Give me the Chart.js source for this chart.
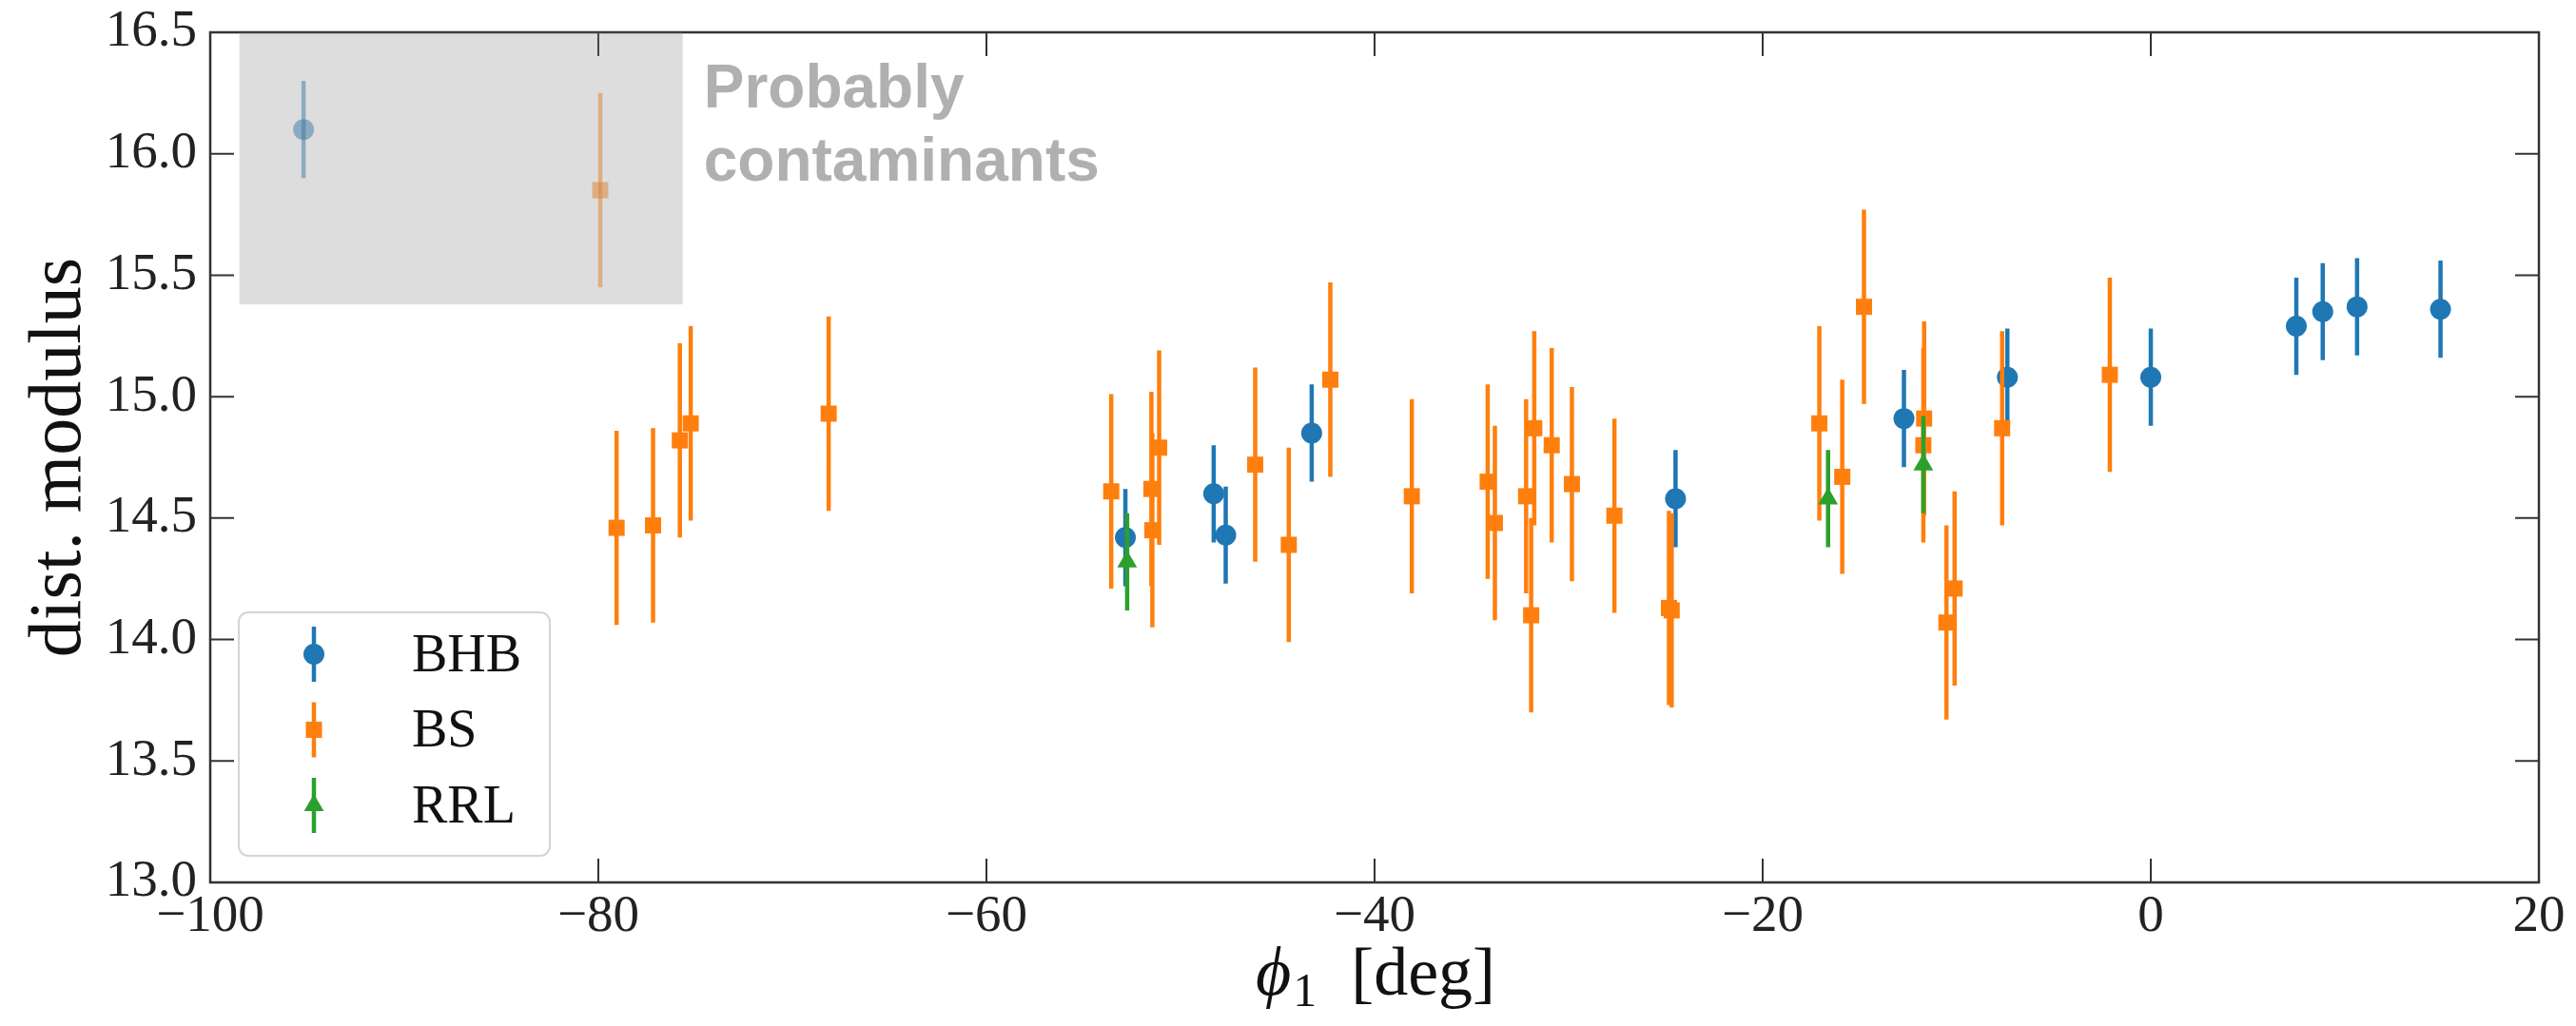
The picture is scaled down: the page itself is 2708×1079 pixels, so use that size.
<!DOCTYPE html>
<html>
<head>
<meta charset="utf-8">
<script src="https://cdn.jsdelivr.net/npm/chart.js@4.4.1/dist/chart.umd.min.js"></script>
<style>
  html, body { margin: 0; padding: 0; background: #fff; }
  #wrap { width: 2708px; height: 1079px; }
</style>
</head>
<body>
<div id="wrap"><canvas id="distChart" width="2708" height="1079"></canvas></div>
<script>
// phi_1 [deg], distance modulus and 1-sigma error for each tracer
const bhbPhi = [-52.84, -48.29, -47.67, -43.24, -24.49, -12.72, -7.39, 0.0, 7.50, 8.86, 10.63, 14.93];
const bhbDm  = [14.42, 14.60, 14.43, 14.85, 14.58, 14.91, 15.08, 15.08, 15.29, 15.35, 15.37, 15.36];
const bhbErr = [0.20, 0.20, 0.20, 0.20, 0.20, 0.20, 0.20, 0.20, 0.20, 0.20, 0.20, 0.20];

const bsPhi = [-79.06, -77.18, -75.80, -75.24, -68.13, -53.57, -51.50, -51.45, -51.10, -46.15, -44.42,
               -42.28, -38.08, -34.17, -33.80, -32.19, -31.93, -31.77, -30.87, -29.83, -27.64, -24.83,
               -24.69, -17.08, -15.90, -14.78, -11.68, -11.72, -10.53, -10.11, -7.66, -2.11];
const bsDm  = [14.46, 14.47, 14.82, 14.89, 14.93, 14.61, 14.62, 14.45, 14.79, 14.72, 14.39,
               15.07, 14.59, 14.65, 14.48, 14.59, 14.10, 14.87, 14.80, 14.64, 14.51, 14.13,
               14.12, 14.89, 14.67, 15.37, 14.91, 14.80, 14.07, 14.21, 14.87, 15.09];
const bsErr = [0.40, 0.40, 0.40, 0.40, 0.40, 0.40, 0.40, 0.40, 0.40, 0.40, 0.40,
               0.40, 0.40, 0.40, 0.40, 0.40, 0.40, 0.40, 0.40, 0.40, 0.40, 0.40,
               0.40, 0.40, 0.40, 0.40, 0.40, 0.40, 0.40, 0.40, 0.40, 0.40];

const rrlPhi = [-52.75, -16.63, -11.72];
const rrlDm  = [14.32, 14.58, 14.72];
const rrlErr = [0.20, 0.20, 0.20];

// outliers inside the shaded region
const contamBhbPhi = [-95.19];
const contamBhbDm  = [16.10];
const contamBhbErr = [0.20];
const contamBsPhi  = [-79.90];
const contamBsDm   = [15.85];
const contamBsErr  = [0.40];

// shaded region [phi min, phi max] x [dm min, dm max]
const contamPhiRange = [-98.5, -75.65];
const contamDmRange  = [15.38, 16.5];
const contamText = ['Probably', 'contaminants'];

const legendOrder = ['BHB', 'BS', 'RRL'];
const xTicks = [-100, -80, -60, -40, -20, 0, 20];
const yTicks = [13.0, 13.5, 14.0, 14.5, 15.0, 15.5, 16.0, 16.5];

const BLUE = '#1f77b4', ORANGE = '#ff7f0e', GREEN = '#2ca02c';
const SERIF = '"Liberation Serif", "DejaVu Serif", serif';
const TICK_LEN = 25;

const toPoints = (xs, ys) => xs.map((v, i) => ({ x: v, y: ys[i] }));

// vertical error bars, drawn just under each dataset's own markers
const errorBars = {
    id: 'errorBars',
    beforeDatasetDraw(chart, args) {
        const ds = chart.data.datasets[args.index];
        if (!ds.errors) return;
        const yScale = chart.scales.y;
        const ctx = chart.ctx;
        ctx.save();
        ctx.strokeStyle = ds.backgroundColor;
        ctx.lineWidth = 4.5;
        ctx.beginPath();
        args.meta.data.forEach((pt, i) => {
            const v = ds.data[i].y, e = ds.errors[i];
            ctx.moveTo(pt.x, yScale.getPixelForValue(v - e));
            ctx.lineTo(pt.x, yScale.getPixelForValue(v + e));
        });
        ctx.stroke();
        ctx.restore();
    }
};

// box frame with inward ticks on all four sides
const frame = {
    id: 'frame',
    beforeDatasetsDraw(chart) {
        const { ctx, chartArea: a, scales: { x, y } } = chart;
        ctx.save();
        ctx.strokeStyle = '#333';
        ctx.lineWidth = 2;
        ctx.beginPath();
        xTicks.forEach((v) => {
            const px = x.getPixelForValue(v);
            ctx.moveTo(px, a.bottom); ctx.lineTo(px, a.bottom - TICK_LEN);
            ctx.moveTo(px, a.top); ctx.lineTo(px, a.top + TICK_LEN);
        });
        yTicks.forEach((v) => {
            const py = y.getPixelForValue(v);
            ctx.moveTo(a.left, py); ctx.lineTo(a.left + TICK_LEN, py);
            ctx.moveTo(a.right, py); ctx.lineTo(a.right - TICK_LEN, py);
        });
        ctx.stroke();
        ctx.lineWidth = 2.5;
        ctx.strokeRect(a.left, a.top, a.right - a.left, a.bottom - a.top);
        ctx.restore();
    }
};

// grey band over the likely contaminants, plus its note
const contamBand = {
    id: 'contamBand',
    afterDatasetsDraw(chart) {
        const { ctx, scales: { x, y } } = chart;
        const x0 = x.getPixelForValue(contamPhiRange[0]);
        const x1 = x.getPixelForValue(contamPhiRange[1]);
        const y0 = y.getPixelForValue(contamDmRange[1]);
        const y1 = y.getPixelForValue(contamDmRange[0]);
        ctx.save();
        ctx.fillStyle = 'rgba(128,128,128,0.27)';
        ctx.fillRect(x0, y0, x1 - x0, y1 - y0);
        ctx.fillStyle = '#b0b0b0';
        ctx.font = 'bold 64px "Liberation Sans", Arial, sans-serif';
        ctx.textAlign = 'left';
        ctx.textBaseline = 'alphabetic';
        contamText.forEach((line, i) => ctx.fillText(line, x1 + 22, y0 + 79 + i * 77));
        ctx.restore();
    }
};

// axis titles and the legend box
const annotations = {
    id: 'annotations',
    afterDraw(chart) {
        const { ctx, chartArea: a } = chart;
        ctx.save();
        ctx.fillStyle = '#111';

        // y title
        ctx.save();
        ctx.translate(84, (a.top + a.bottom) / 2);
        ctx.rotate(-Math.PI / 2);
        ctx.font = '78px ' + SERIF;
        ctx.textAlign = 'center';
        ctx.textBaseline = 'alphabetic';
        ctx.fillText('dist. modulus', 0, 0);
        ctx.restore();

        // x title: phi_1 [deg]
        const base = 1046;
        const fPhi = 'italic 72px ' + SERIF, fSub = '50px ' + SERIF, fMain = '72px ' + SERIF;
        ctx.font = fPhi; const wPhi = ctx.measureText('ϕ').width;
        ctx.font = fSub; const wSub = ctx.measureText('1').width;
        ctx.font = fMain; const wRest = ctx.measureText('  [deg]').width;
        let cx = (a.left + a.right) / 2 - (wPhi + wSub + wRest) / 2;
        ctx.textAlign = 'left';
        ctx.textBaseline = 'alphabetic';
        ctx.font = fPhi; ctx.fillText('ϕ', cx, base); cx += wPhi + 2;
        ctx.font = fSub; ctx.fillText('1', cx, base + 12); cx += wSub;
        ctx.font = fMain; ctx.fillText('  [deg]', cx, base);

        // legend
        const lx = 251, ly = 644, lw = 327, lh = 256;
        ctx.beginPath();
        ctx.roundRect(lx, ly, lw, lh, 10);
        ctx.fillStyle = 'rgba(255,255,255,0.8)';
        ctx.fill();
        ctx.strokeStyle = '#d4d4d4';
        ctx.lineWidth = 2;
        ctx.stroke();

        legendOrder.forEach((name, i) => {
            const d = chart.data.datasets.find((ds) => ds.label === name);
            const my = ly + 44 + i * 79.5;
            const mx = lx + 79;
            ctx.strokeStyle = d.backgroundColor;
            ctx.lineWidth = 4.5;
            ctx.beginPath();
            ctx.moveTo(mx, my - 29); ctx.lineTo(mx, my + 29);
            ctx.stroke();
            ctx.fillStyle = d.backgroundColor;
            Chart.helpers.drawPoint(ctx, {
                pointStyle: d.pointStyle, radius: d.pointRadius, rotation: 0, borderWidth: 0
            }, mx, my);
            ctx.fillStyle = '#111';
            ctx.font = '56px ' + SERIF;
            ctx.textAlign = 'left';
            ctx.textBaseline = 'middle';
            ctx.fillText(d.label, lx + 182, my + 3);
        });
        ctx.restore();
    }
};

const tickFmt = (digits) => (v) => {
    const s = Math.abs(v).toFixed(digits);
    return v < 0 ? '\u2212' + s : s;
};

new Chart(document.getElementById('distChart'), {
    type: 'scatter',
    data: {
        datasets: [
            { label: 'RRL', order: 0, data: toPoints(rrlPhi, rrlDm), errors: rrlErr,
              pointStyle: 'triangle', pointRadius: 12, backgroundColor: GREEN, borderWidth: 0 },
            { label: 'BS', order: 1, data: toPoints(bsPhi, bsDm), errors: bsErr,
              pointStyle: 'rect', pointRadius: 12, backgroundColor: ORANGE, borderWidth: 0 },
            { label: 'BHB', order: 2, data: toPoints(bhbPhi, bhbDm), errors: bhbErr,
              pointStyle: 'circle', pointRadius: 11, backgroundColor: BLUE, borderWidth: 0 },
            { label: 'BS contaminant', order: 3, data: toPoints(contamBsPhi, contamBsDm), errors: contamBsErr,
              pointStyle: 'rect', pointRadius: 12, backgroundColor: 'rgba(255,127,14,0.5)', borderWidth: 0 },
            { label: 'BHB contaminant', order: 4, data: toPoints(contamBhbPhi, contamBhbDm), errors: contamBhbErr,
              pointStyle: 'circle', pointRadius: 11, backgroundColor: 'rgba(31,119,180,0.5)', borderWidth: 0 }
        ]
    },
    options: {
        responsive: false,
        animation: false,
        devicePixelRatio: 1,
        layout: { padding: { left: 0, right: 39, top: 34, bottom: 0 } },
        plugins: {
            legend: { display: false },
            tooltip: { enabled: false }
        },
        elements: { point: { hoverRadius: 0 } },
        scales: {
            x: {
                type: 'linear',
                min: -100,
                max: 20,
                afterBuildTicks: (s) => { s.ticks = xTicks.map((v) => ({ value: v })); },
                afterFit: (s) => { s.height = 151; s.paddingLeft = 0; s.paddingRight = 0; },
                grid: { display: false, drawTicks: false },
                border: { display: false },
                ticks: {
                    autoSkip: false,
                    maxRotation: 0,
                    padding: 4,
                    color: '#222',
                    font: { family: SERIF, size: 55 },
                    callback: tickFmt(0)
                }
            },
            y: {
                type: 'linear',
                min: 13,
                max: 16.5,
                afterBuildTicks: (s) => { s.ticks = yTicks.map((v) => ({ value: v })); },
                afterFit: (s) => { s.width = 221; s.paddingTop = 0; s.paddingBottom = 0; },
                grid: { display: false, drawTicks: false },
                border: { display: false },
                ticks: {
                    autoSkip: false,
                    padding: 14,
                    color: '#222',
                    font: { family: SERIF, size: 55 },
                    callback: tickFmt(1)
                }
            }
        }
    },
    plugins: [frame, errorBars, contamBand, annotations]
});
</script>
</body>
</html>
